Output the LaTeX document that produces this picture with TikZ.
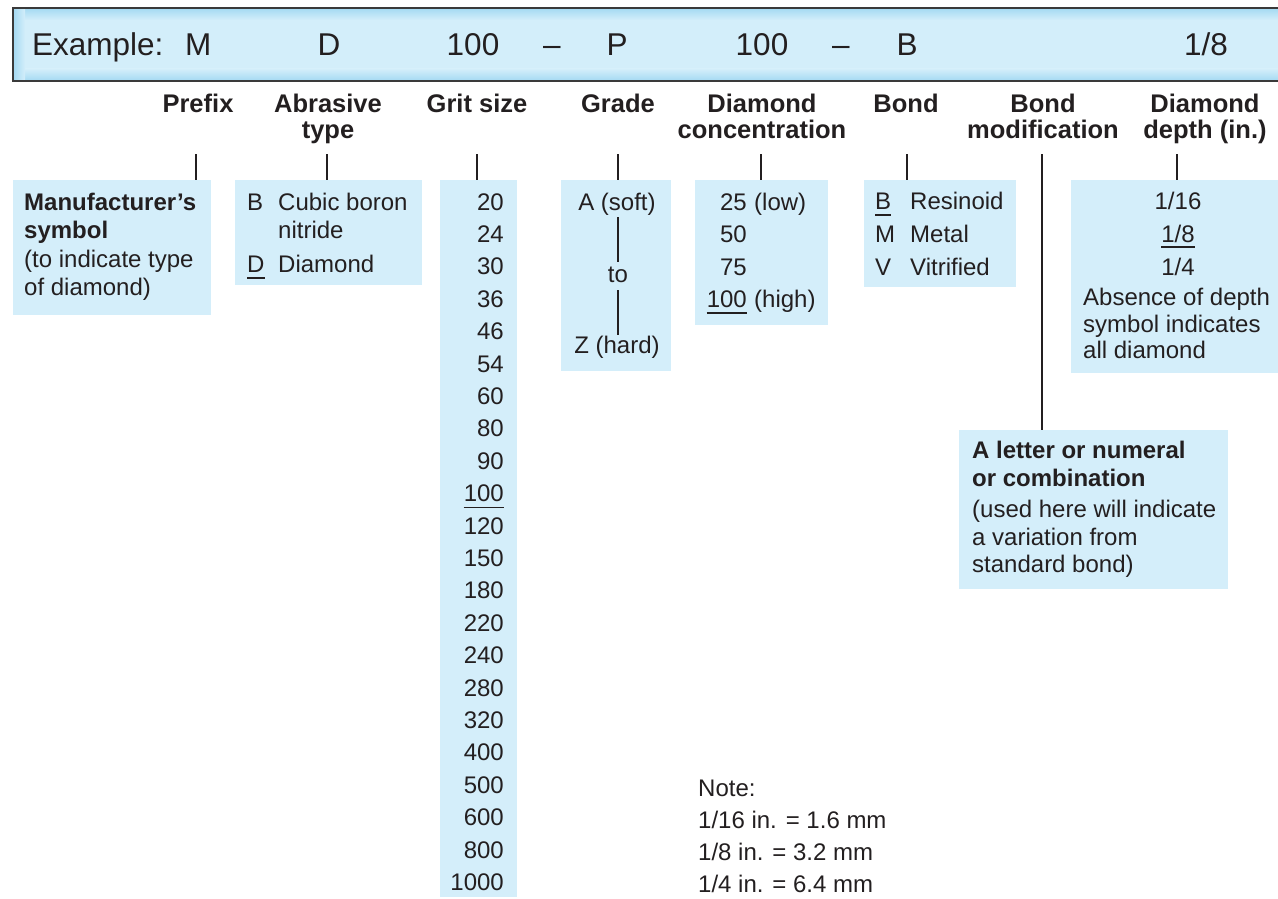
\documentclass[tikz,border=0pt]{standalone}
\usepackage{fontspec}
\setmainfont{Liberation Sans}
\definecolor{boxblue}{HTML}{D4EEFA}
\definecolor{barblue}{HTML}{D3EEFA}
\definecolor{baredge}{HTML}{A3D9F2}
\definecolor{ink}{HTML}{231F20}
\definecolor{framec}{HTML}{3A3A3A}
\tikzset{
  hdr/.style={font=\fontsize{31.5}{36}\selectfont, inner sep=0pt, text=ink},
  lbl/.style={font=\bfseries\fontsize{25.5}{28}\selectfont, inner sep=0pt, text=ink, anchor=base},
  txt/.style={font=\fontsize{24}{28}\selectfont, inner sep=0pt, text=ink},
  btxt/.style={font=\bfseries\fontsize{24}{28}\selectfont, inner sep=0pt, text=ink},
  infobox/.style={fill=boxblue, draw=none, anchor=north west, inner sep=0pt, outer sep=0pt},
  tick/.style={draw=ink, line width=1.6pt},
  uline/.style={draw=ink, line width=1.2pt},
}
\begin{document}
\begin{tikzpicture}[x=1pt,y=-1pt]
\useasboundingbox (0,0) rectangle (1278,899);
% header bar
\fill[barblue] (13,8) rectangle (1292,81);
\shade[top color=baredge, bottom color=barblue] (13,8) rectangle (1292,20);
\shade[top color=barblue, bottom color=baredge] (13,69) rectangle (1292,81);
\shade[left color=baredge, right color=barblue] (13,8) rectangle (25,81);
\node[draw=framec, line width=2.2pt, anchor=north west, inner sep=0pt, outer sep=0pt,
      minimum width=1279pt, minimum height=73pt] (bar) at (13,8) {};
\node[hdr, anchor=base west] (hex) at (32,56) {Example:};
\node[hdr, anchor=base west] (hM) at (185,56) {M};
\node[hdr, anchor=base] (hD) at (329,56) {D};
\node[hdr, anchor=base] (hgrit) at (473,56) {100};
\node[hdr, anchor=base] (hdasha) at (552,56) {–};
\node[hdr, anchor=base] (hP) at (617,56) {P};
\node[hdr, anchor=base] (hconc) at (762,56) {100};
\node[hdr, anchor=base] (hdashb) at (841,56) {–};
\node[hdr, anchor=base] (hB) at (907,56) {B};
\node[hdr, anchor=base] (hdepth) at (1206,56) {1/8};
% labels
\node[lbl] (lprefix) at (198,112) {Prefix};
\node[lbl] (labra) at (328,112) {Abrasive};
\node[lbl] (labrb) at (328,139) {type};
\node[lbl] (lgrit) at (477,112) {Grit size};
\node[lbl] (lgrade) at (618,112) {Grade};
\node[lbl] (lconca) at (762,112) {Diamond};
\node[lbl] (lconcb) at (762,139) {concentration};
\node[lbl] (lbond) at (906,112) {Bond};
\node[lbl] (lmoda) at (1043,112) {Bond};
\node[lbl] (lmodb) at (1043,139) {modification};
\node[lbl] (ldepa) at (1205,112) {Diamond};
\node[lbl] (ldepb) at (1205,139) {depth (in.)};
% boxes
\node[infobox, minimum width=198pt, minimum height=135pt] (manuf) at (13,180) {};
\node[infobox, minimum width=187pt, minimum height=105pt] (abr) at (235,180) {};
\node[infobox, minimum width=77pt, minimum height=717pt] (grit) at (440,180) {};
\node[infobox, minimum width=110pt, minimum height=191pt] (grade) at (561,180) {};
\node[infobox, minimum width=133pt, minimum height=145pt] (conc) at (695,180) {};
\node[infobox, minimum width=152pt, minimum height=107pt] (bond) at (864,180) {};
\node[infobox, minimum width=215pt, minimum height=193pt] (depth) at (1071,180) {};
\node[infobox, minimum width=269pt, minimum height=159pt] (mod) at (959,430) {};
% ticks
\coordinate (tkprefix) at (196,154);
\coordinate (tkabr) at (327,154);
\coordinate (tkgrit) at (477,154);
\coordinate (tkgrade) at (618,154);
\coordinate (tkconc) at (761,154);
\coordinate (tkbond) at (907,154);
\coordinate (tkmod) at (1042,154);
\coordinate (tkdepth) at (1177,154);
\draw[tick] (tkprefix) -- (tkprefix |- manuf.north);
\draw[tick] (tkabr) -- (tkabr |- abr.north);
\draw[tick] (tkgrit) -- (tkgrit |- grit.north);
\draw[tick] (tkgrade) -- (tkgrade |- grade.north);
\draw[tick] (tkconc) -- (tkconc |- conc.north);
\draw[tick] (tkbond) -- (tkbond |- bond.north);
\draw[tick] (tkmod) -- (tkmod |- mod.north);
\draw[tick] (tkdepth) -- (tkdepth |- depth.north);
% manufacturer
\node[btxt, anchor=base west] (ma) at (24,210) {Manufacturer’s};
\node[btxt, anchor=base west] (mb) at (24,238) {symbol};
\node[txt, anchor=base west] (mc) at (24,267) {(to indicate type};
\node[txt, anchor=base west] (md) at (24,295) {of diamond)};
% abrasive
\node[txt, anchor=base west] (aB) at (247,210) {B};
\node[txt, anchor=base west] (aBt) at (278,210) {Cubic boron};
\node[txt, anchor=base west] (aBu) at (278,238) {nitride};
\node[txt, anchor=base west] (aD) at (247,272) {D};
\node[txt, anchor=base west] (aDt) at (278,272) {Diamond};
\draw[uline] ([yshift=-6pt]aD.base west) -- ([yshift=-6pt]aD.base east);
% grit
\foreach \n [count=\k from 0] in {20,24,30,36,46,54,60,80,90,100,120,150,180,220,240,280,320,400,500,600,800,1000}
  \node[txt, anchor=base east] (g\k) at (504,{210+32.4*\k}) {\n};
\draw[uline] ([yshift=-6pt]g9.base west) -- ([yshift=-6pt]g9.base east);
% grade
\node[txt, anchor=base] (gsoft) at (617,210) {A (soft)};
\node[txt, anchor=base] (gto) at (618,282) {to};
\node[txt, anchor=base] (ghard) at (617,353) {Z (hard)};
\draw[tick, line width=1.4pt] ([yshift=-7pt]gsoft.base -| gto.base) -- ([yshift=20pt]gto.base);
\draw[tick, line width=1.4pt] ([yshift=-8pt]gto.base) -- ([yshift=18pt]ghard.base -| gto.base);
% concentration
\node[txt, anchor=base east] (c25) at (747,210) {25};
\node[txt, anchor=base west] (c25t) at (754,210) {(low)};
\node[txt, anchor=base east] (c50) at (747,242) {50};
\node[txt, anchor=base east] (c75) at (747,275) {75};
\node[txt, anchor=base east] (c100) at (747,307) {100};
\node[txt, anchor=base west] (c100t) at (754,307) {(high)};
\draw[uline] ([yshift=-6pt]c100.base west) -- ([yshift=-6pt]c100.base east);
% bond
\node[txt, anchor=base west] (bB) at (875,209) {B};
\node[txt, anchor=base west] (bBt) at (910,209) {Resinoid};
\node[txt, anchor=base west] (bM) at (875,242) {M};
\node[txt, anchor=base west] (bMt) at (910,242) {Metal};
\node[txt, anchor=base west] (bV) at (875,275) {V};
\node[txt, anchor=base west] (bVt) at (910,275) {Vitrified};
\draw[uline] ([yshift=-6pt]bB.base west) -- ([yshift=-6pt]bB.base east);
% depth
\node[txt, anchor=base] (d16) at (1178,209) {1/16};
\node[txt, anchor=base] (d8) at (1178,242) {1/8};
\node[txt, anchor=base] (d4) at (1178,275) {1/4};
\draw[uline] ([yshift=-5pt]d8.base west) -- ([yshift=-5pt]d8.base east);
\node[txt, anchor=base west] (da) at (1083,305) {Absence of depth};
\node[txt, anchor=base west] (db) at (1083,332) {symbol indicates};
\node[txt, anchor=base west] (dc) at (1083,358) {all diamond};
% modification
\node[btxt, anchor=base west] (moa) at (972,458) {A letter or numeral};
\node[btxt, anchor=base west] (mob) at (972,486) {or combination};
\node[txt, anchor=base west] (moc) at (972,517) {(used here will indicate};
\node[txt, anchor=base west] (mod2) at (972,545) {a variation from};
\node[txt, anchor=base west] (moe) at (972,572) {standard bond)};
% note
\node[txt, anchor=base west] (na) at (698,796) {Note:};
\node[txt, anchor=base west] (nb) at (698,828) {1/16 in. = 1.6 mm};
\node[txt, anchor=base west] (nc) at (698,860) {1/8 in. = 3.2 mm};
\node[txt, anchor=base west] (nd) at (698,892) {1/4 in. = 6.4 mm};
\end{tikzpicture}
\end{document}
